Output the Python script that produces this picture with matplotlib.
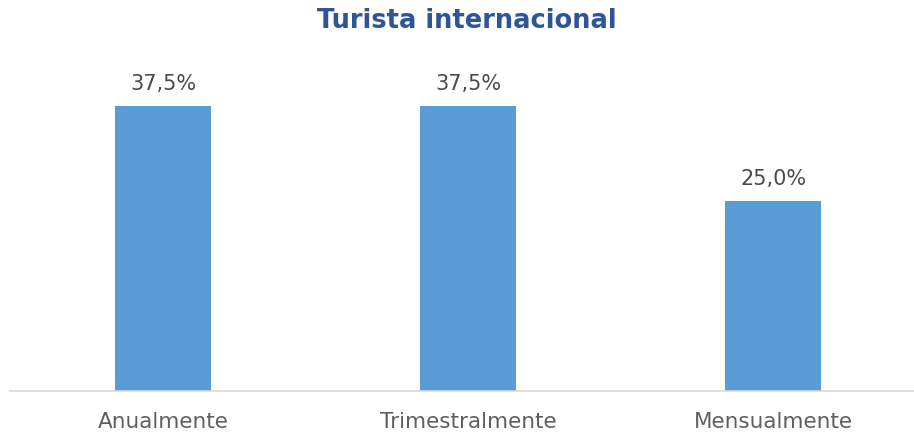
import matplotlib.pyplot as plt

categorias = ['Anualmente', 'Trimestralmente', 'Mensualmente']
valores = [37.5, 37.5, 25.0]
etiquetas = ['37,5%', '37,5%', '25,0%']

fig = plt.figure(figsize=(9.14, 4.37), dpi=100)
# axes: left 10px, bottom at y=391 (46px from bottom), top at y=60
ax = fig.add_axes([10/914, 46/437, 904/914, 331/437])

x = list(range(len(categorias)))
ax.bar(x, valores, width=0.315, color='#5B9BD5')
ax.set_xlim(-0.502, 2.462)
ax.set_ylim(0, 43.55)

for xi, v, t in zip(x, valores, etiquetas):
    ax.text(xi, v + 1.6, t, ha='center', va='bottom', fontsize=15,
            color='#4a4a4a', family='DejaVu Sans')

ax.set_xticks(x)
ax.set_xticklabels(categorias, fontsize=15.5, color='#5f5f5f', family='DejaVu Sans')
ax.tick_params(axis='x', length=0, pad=15)
ax.set_yticks([])
for s in ['top', 'right', 'left']:
    ax.spines[s].set_visible(False)
ax.spines['bottom'].set_color('#D9D9D9')
ax.spines['bottom'].set_linewidth(1.2)

fig.text(467/914, 1 - 21/437, 'Turista internacional', ha='center', va='center',
         fontsize=18.5, fontweight='bold', color='#2F5597', family='DejaVu Sans')

fig.savefig('out.png', dpi=100)
